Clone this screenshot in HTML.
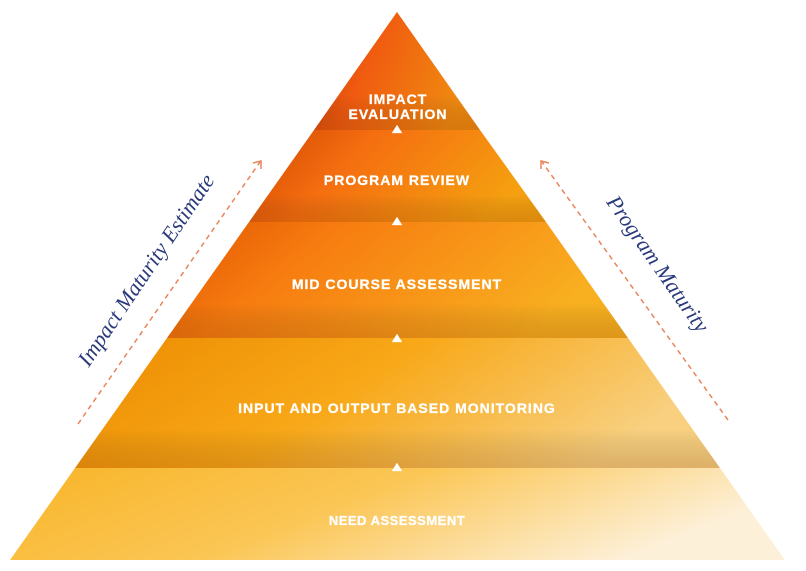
<!DOCTYPE html>
<html><head><style>body{margin:0;background:#fff}</style></head><body>
<svg width="806" height="566" viewBox="0 0 806 566" xmlns="http://www.w3.org/2000/svg" font-family="Liberation Sans, sans-serif">
<defs>
<linearGradient id="g1" x1="0" y1="0" x2="1" y2="0.3"><stop offset="0" stop-color="#b83a00"/><stop offset="0.4" stop-color="#f05a10"/><stop offset="1" stop-color="#f08a10"/></linearGradient>
<linearGradient id="g2" x1="0" y1="0" x2="1" y2="0.3"><stop offset="0" stop-color="#d04500"/><stop offset="0.4" stop-color="#f56e10"/><stop offset="1" stop-color="#f5a010"/></linearGradient>
<linearGradient id="g3" x1="0" y1="0" x2="1" y2="0.3"><stop offset="0" stop-color="#e05500"/><stop offset="0.35" stop-color="#f77c10"/><stop offset="1" stop-color="#f8b020"/></linearGradient>
<linearGradient id="g4" x1="0" y1="0" x2="1" y2="0.3"><stop offset="0" stop-color="#ec8a00"/><stop offset="0.5" stop-color="#f8a818"/><stop offset="1" stop-color="#f8d080"/></linearGradient>
<linearGradient id="g5" x1="0" y1="0" x2="1" y2="0.3"><stop offset="0" stop-color="#f8b428"/><stop offset="0.5" stop-color="#fbc655"/><stop offset="1" stop-color="#fdf0d8"/></linearGradient>
<linearGradient id="sh" x1="0" y1="0" x2="0" y2="1"><stop offset="0.7" stop-color="#000" stop-opacity="0"/><stop offset="1" stop-color="#7a3000" stop-opacity="0.2"/></linearGradient>
</defs>
<polygon points="397,12 480,130 314,130" fill="url(#g1)"/>
<polygon points="314,130 480,130 546,222 249,222" fill="url(#g2)"/>
<polygon points="249,222 546,222 628,338 167,338" fill="url(#g3)"/>
<polygon points="167,338 628,338 720,468 75,468" fill="url(#g4)"/>
<polygon points="75,468 720,468 785,560 10,560" fill="url(#g5)"/>
<polygon points="397,12 480,130 314,130" fill="url(#sh)"/>
<polygon points="314,130 480,130 546,222 249,222" fill="url(#sh)"/>
<polygon points="249,222 546,222 628,338 167,338" fill="url(#sh)"/>
<polygon points="167,338 628,338 720,468 75,468" fill="url(#sh)"/>
<g fill="#fff" font-weight="900" font-size="14" text-anchor="middle" letter-spacing="1" stroke="#fff" stroke-width="0.3">
<text x="398" y="104">IMPACT</text>
<text x="398" y="119">EVALUATION</text>
<text x="397" y="185">PROGRAM REVIEW</text>
<text x="397" y="289">MID COURSE ASSESSMENT</text>
<text x="397" y="413">INPUT AND OUTPUT BASED MONITORING</text>
<text x="397" y="525" font-size="13" letter-spacing="0.5">NEED ASSESSMENT</text>
<polygon points="397,125 402,133 392,133"/>
<polygon points="397,217 402,225 392,225"/>
<polygon points="397,334 402,342 392,342"/>
<polygon points="397,463 402,471 392,471"/>
</g>
<g stroke="#e8845a" stroke-width="1.5" stroke-dasharray="5,4" fill="none">
<line x1="78" y1="424" x2="260" y2="162"/>
<polyline points="253,163 261,161 261,169" stroke-dasharray="none"/>
<line x1="728" y1="420" x2="542" y2="162"/>
<polyline points="549,163 541,161 541,169" stroke-dasharray="none"/>
</g>
<g fill="#2a3a7a" font-family="Liberation Serif, serif" font-style="italic" font-size="22" text-anchor="middle">
<text transform="translate(152,274) rotate(-56)">Impact Maturity Estimate</text>
<text transform="translate(652,268) rotate(55)">Program Maturity</text>
</g>
</svg>
</body></html>
